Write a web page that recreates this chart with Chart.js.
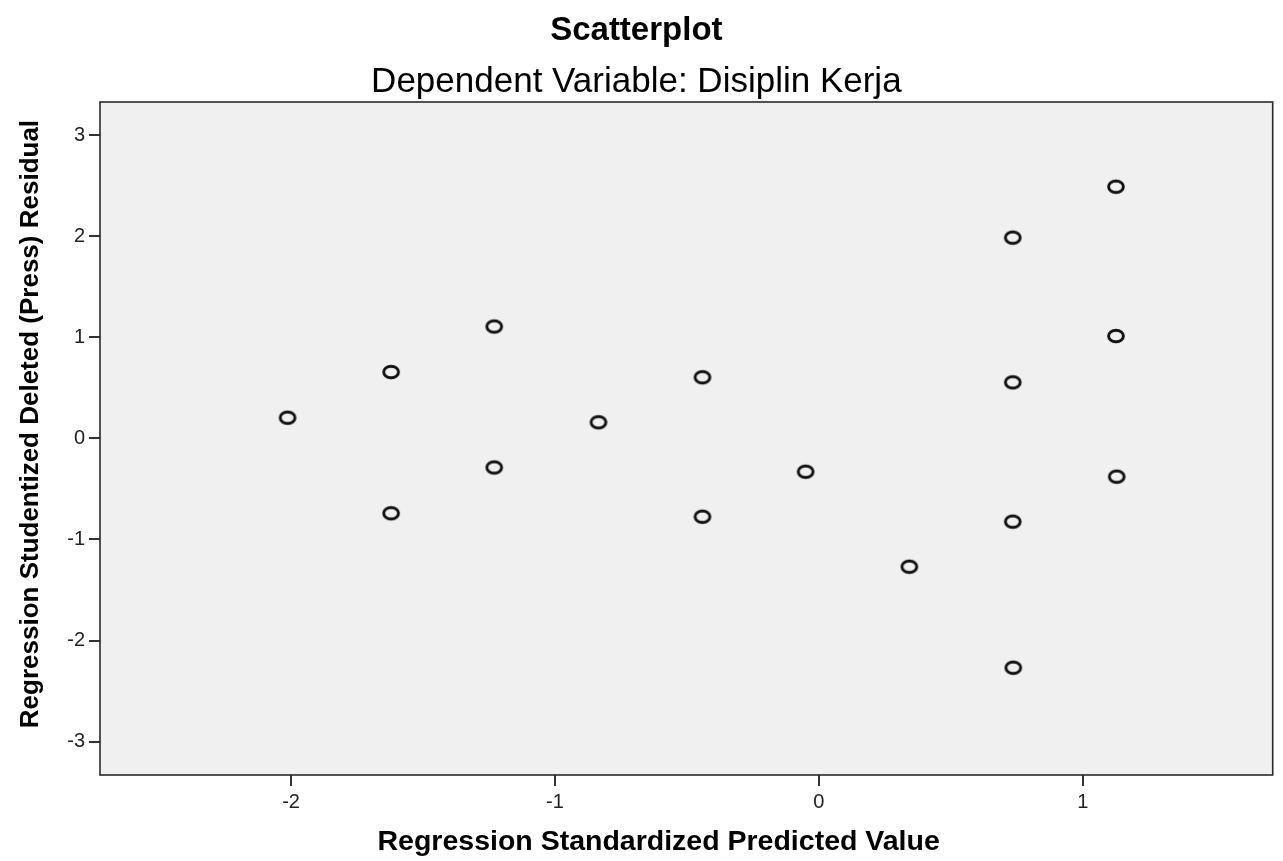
<!DOCTYPE html>
<html><head><meta charset="utf-8">
<script src="https://cdn.jsdelivr.net/npm/chart.js@4.4.1/dist/chart.umd.min.js"></script>
<style>html,body{margin:0;padding:0;background:#fff;}#wrap{width:1283px;height:861px;}</style>
</head><body><div id="wrap"><canvas id="c" width="1283" height="861"></canvas></div>
<script>
const predictedValues = [-2.013, -1.621, -1.621, -1.230, -1.230, -0.835, -0.441, -0.441, -0.050, 0.343, 0.735, 0.735, 0.735, 0.737, 1.126, 1.126, 1.129];
const studentizedResiduals = [0.204, 0.656, -0.741, 1.106, -0.288, 0.159, 0.604, -0.775, -0.330, -1.270, 1.985, 0.554, -0.824, -2.269, 2.489, 1.012, -0.379];
const xTicks = [-2, -1, 0, 1];
const yTicks = [-3, -2, -1, 0, 1, 2, 3];
const chartTitle = 'Scatterplot';
const chartSubtitle = 'Dependent Variable: Disiplin Kerja';
const xTitle = 'Regression Standardized Predicted Value';
const yTitle = 'Regression Studentized Deleted (Press) Residual';

const FONT = "'Liberation Sans', Arial, sans-serif";

// elliptical hollow marker
const marker = document.createElement('canvas');
marker.width = 20; marker.height = 18;
(function(){
  const g = marker.getContext('2d');
  g.lineWidth = 2.9;
  g.strokeStyle = '#111';
  g.beginPath();
  g.ellipse(10, 9, 7.4, 5.8, 0, 0, Math.PI * 2);
  g.stroke();
})();

const points = predictedValues.map((x, i) => ({x: x, y: studentizedResiduals[i]}));

const framePlugin = {
  id: 'frame',
  beforeDatasetsDraw(chart) {
    const {ctx, chartArea: a} = chart;
    ctx.save();
    ctx.fillStyle = '#f0f0f0';
    ctx.fillRect(a.left, a.top, a.right - a.left, a.bottom - a.top);
    ctx.restore();
  },
  afterDatasetsDraw(chart) {
    const {ctx, chartArea: a} = chart;
    ctx.save();
    ctx.strokeStyle = '#2a2a2a';
    ctx.lineWidth = 1.6;
    ctx.strokeRect(a.left, a.top, a.right - a.left, a.bottom - a.top);
    ctx.restore();
  }
};

new Chart(document.getElementById('c'), {
  type: 'scatter',
  data: {
    datasets: [{
      data: points,
      pointStyle: marker,
      pointRadius: 8,
      pointHoverRadius: 8,
      backgroundColor: 'transparent',
      borderColor: '#111'
    }]
  },
  options: {
    responsive: false,
    animation: false,
    devicePixelRatio: 1,
    layout: {padding: {left: 0, right: 10.3, top: 0, bottom: 0}},
    plugins: {
      legend: {display: false},
      tooltip: {enabled: false},
      title: {
        display: true, text: chartTitle, color: '#000',
        font: {family: FONT, size: 33, weight: 'bold', lineHeight: 1.0},
        padding: {top: 14.5, bottom: 0}
      },
      subtitle: {
        display: true, text: chartSubtitle, color: '#000',
        font: {family: FONT, size: 35, weight: 'normal', lineHeight: 1.0},
        padding: {top: 17.8, bottom: 1.7}
      }
    },
    scales: {
      x: {
        type: 'linear', position: 'bottom',
        min: -2.724, max: 1.72,
        afterBuildTicks(scale) { scale.ticks = xTicks.map(v => ({value: v})); },
        afterFit(scale) { scale.height = 86; },
        grid: {drawOnChartArea: false, drawTicks: true, tickLength: 11, color: '#333', lineWidth: 2},
        border: {display: false},
        ticks: {color: '#222', font: {family: FONT, size: 20}, padding: 4, maxRotation: 0},
        title: {display: true, text: xTitle + ' '.repeat(7), color: '#000', font: {family: FONT, size: 28.5, weight: 'bold'}, padding: {top: 0, bottom: 2}}
      },
      y: {
        type: 'linear', position: 'left',
        min: -3.33, max: 3.327,
        afterBuildTicks(scale) { scale.ticks = yTicks.map(v => ({value: v})); },
        afterFit(scale) { scale.width = 100; },
        grid: {drawOnChartArea: false, drawTicks: true, tickLength: 11, color: '#333', lineWidth: 2},
        border: {display: false},
        ticks: {color: '#222', font: {family: FONT, size: 20}, padding: 4},
        title: {display: true, text: ' '.repeat(4) + yTitle, color: '#000', font: {family: FONT, size: 26, weight: 'bold'}, padding: {top: 15, bottom: 0}}
      }
    }
  },
  plugins: [framePlugin]
});
</script>
</body></html>
